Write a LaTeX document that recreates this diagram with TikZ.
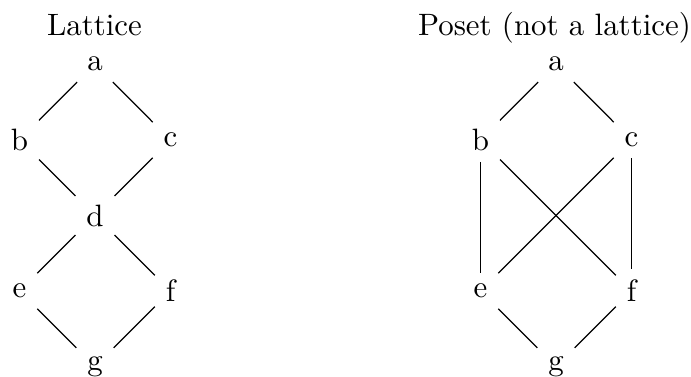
\documentclass[tikz,border=0pt]{standalone}
\begin{document}
\begin{tikzpicture}[x=0.3236pt,y=-0.3236pt]
\useasboundingbox (0,0) rectangle (691,377);
\tikzset{vtx/.style={inner sep=0.3333em}, ttl/.style={anchor=base, inner sep=0pt}}
% titles
\node[ttl] (t1) at (94.5,35) {Lattice};
\node[ttl] (t2) at (554.5,35) {Poset (not a lattice)};
% lattice
\node[vtx] (a) at (95,64) {a};
\node[vtx] (b) at (19.5,140) {b};
\node[vtx] (c) at (170.5,140) {c};
\node[vtx] (d) at (95,215.5) {d};
\node[vtx] (e) at (19.5,291) {e};
\node[vtx] (f) at (170.5,291) {f};
\node[vtx] (g) at (95,366.5) {g};
\draw (a) -- (b);
\draw (a) -- (c);
\draw (b) -- (d);
\draw (c) -- (d);
\draw (d) -- (e);
\draw (d) -- (f);
\draw (e) -- (g);
\draw (f) -- (g);
% poset
\node[vtx] (pa) at (556,64) {a};
\node[vtx] (pb) at (480.5,140) {b};
\node[vtx] (pc) at (631.5,140) {c};
\node[vtx] (pe) at (480.5,291) {e};
\node[vtx] (pf) at (631.5,291) {f};
\node[vtx] (pg) at (556,366.5) {g};
\draw (pa) -- (pb);
\draw (pa) -- (pc);
\draw (pb) -- (pe);
\draw (pb) -- (pf);
\draw (pc) -- (pe);
\draw (pc) -- (pf);
\draw (pe) -- (pg);
\draw (pf) -- (pg);
\end{tikzpicture}
\end{document}
